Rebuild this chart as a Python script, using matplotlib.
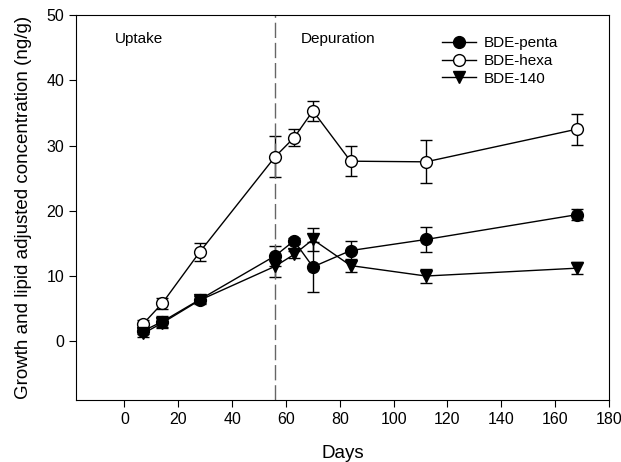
import numpy as np
import matplotlib.pyplot as plt
from matplotlib.lines import Line2D

plt.rcParams['font.family'] = ['Liberation Sans', 'DejaVu Sans']

days = [7, 14, 28, 56, 63, 70, 84, 112, 168]

penta = [1.6, 3.0, 6.4, 13.1, 15.4, 11.4, 13.9, 15.6, 19.4]
penta_err = [0.5, 0.8, 0.6, 1.5, 0.5, 3.8, 1.5, 1.9, 0.8]

hexa = [2.7, 5.8, 13.7, 28.3, 31.2, 35.3, 27.6, 27.5, 32.5]
hexa_err = [0.5, 0.8, 1.4, 3.1, 1.3, 1.5, 2.3, 3.3, 2.4]

bde140 = [1.2, 2.8, 6.3, 11.5, 13.3, 15.6, 11.6, 10.0, 11.2]
bde140_err = [0.5, 0.8, 0.6, 1.6, 0.6, 1.8, 1.0, 1.0, 0.9]

fig = plt.figure(figsize=(6.21, 4.62), dpi=100)
ax = fig.add_axes([0.1224, 0.1342, 0.8583, 0.8333])

kw = dict(color='black', lw=1, capsize=4.5, elinewidth=1, capthick=1, markersize=8.5)
ax.errorbar(days, penta, yerr=penta_err, fmt='-o', mfc='black', mec='black', **kw)
ax.errorbar(days, hexa, yerr=hexa_err, fmt='-o', mfc='white', mec='black', **kw)
ax.errorbar(days, bde140, yerr=bde140_err, fmt='-v', mfc='black', mec='black', **kw)

ax.axvline(56, color='#666666', lw=1, dashes=(11, 3.5))

ax.text(-3.5, 46.4, 'Uptake', fontsize=11, va='center')
ax.text(65.5, 46.4, 'Depuration', fontsize=11, va='center')

ax.set_xlim(-18, 180)
ax.set_ylim(-9, 50)
ax.set_xticks(np.arange(0, 181, 20))
ax.set_yticks(np.arange(0, 51, 10))
ax.tick_params(direction='out', length=5, labelsize=11.5, top=False, right=False)
ax.set_xlabel('Days', fontsize=13.5, labelpad=13)
ax.set_ylabel('Growth and lipid adjusted concentration (ng/g)', fontsize=13.5, labelpad=10)

handles = [
    Line2D([], [], color='black', lw=1, marker='o', mfc='black', mec='black', markersize=8.5),
    Line2D([], [], color='black', lw=1, marker='o', mfc='white', mec='black', markersize=8.5),
    Line2D([], [], color='black', lw=1, marker='v', mfc='black', mec='black', markersize=8.5),
]
labels = ['BDE-penta', 'BDE-hexa', 'BDE-140']
ax.legend(handles, labels, loc='upper left', bbox_to_anchor=(0.687, 0.945), frameon=False,
          borderpad=0, borderaxespad=0, fontsize=11, handlelength=2.2,
          handletextpad=0.5, labelspacing=0.25)

fig.savefig('out.png', dpi=100)
